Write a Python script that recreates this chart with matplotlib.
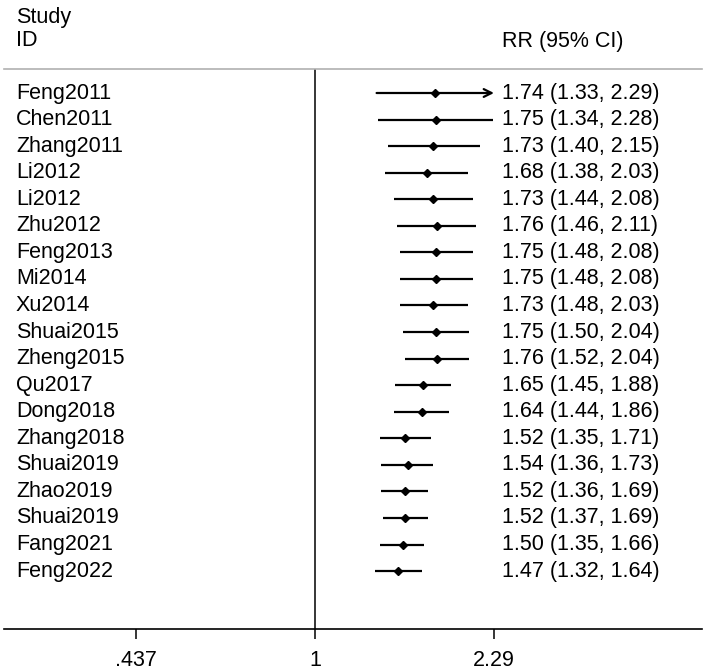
import matplotlib
matplotlib.use('Agg')
from matplotlib import pyplot as plt
from matplotlib.ticker import FixedLocator, FixedFormatter, NullLocator
import numpy as np

plt.rcParams['font.family'] = ['Liberation Sans', 'DejaVu Sans']

studies = ['Feng2011', 'Chen2011', 'Zhang2011', 'Li2012', 'Li2012', 'Zhu2012',
           'Feng2013', 'Mi2014', 'Xu2014', 'Shuai2015', 'Zheng2015', 'Qu2017',
           'Dong2018', 'Zhang2018', 'Shuai2019', 'Zhao2019', 'Shuai2019',
           'Fang2021', 'Feng2022']
rr = [1.74, 1.75, 1.73, 1.68, 1.73, 1.76, 1.75, 1.75, 1.73, 1.75, 1.76, 1.65,
      1.64, 1.52, 1.54, 1.52, 1.52, 1.50, 1.47]
lo = [1.33, 1.34, 1.40, 1.38, 1.44, 1.46, 1.48, 1.48, 1.48, 1.50, 1.52, 1.45,
      1.44, 1.35, 1.36, 1.36, 1.37, 1.35, 1.32]
hi = [2.29, 2.28, 2.15, 2.03, 2.08, 2.11, 2.08, 2.08, 2.03, 2.04, 2.04, 1.88,
      1.86, 1.71, 1.73, 1.69, 1.69, 1.66, 1.64]
ticks = [0.437, 1, 2.29]
tick_labels = ['.437', '1', '2.29']

W, H = 708, 672
fig = plt.figure(figsize=(W / 100, H / 100), dpi=100)

x_left, x_right, y_top, y_bot = 4, 702, 69, 629
ax = fig.add_axes([x_left / W, 1 - y_bot / H, (x_right - x_left) / W, (y_bot - y_top) / H])

px_per_ln = 216.0
x_one = 315
ax.set_xscale('log')
ax.set_xlim(np.exp((x_left - x_one) / px_per_ln), np.exp((x_right - x_one) / px_per_ln))

row0, step = 93, 26.56
ax.set_ylim((y_bot - row0) / step, (y_top - row0) / step)

fs = 15.5
ypos = np.arange(len(studies))
for y, name, m, l, h in zip(ypos, studies, rr, lo, hi):
    if h >= ticks[-1]:
        ax.annotate('', xy=(h, y), xytext=(l, y),
                    arrowprops=dict(arrowstyle='->', lw=1.6, color='black',
                                    mutation_scale=14, shrinkA=0, shrinkB=0))
    else:
        ax.plot([l, h], [y, y], color='black', lw=1.6, solid_capstyle='butt')
    ax.plot(m, y, marker='D', color='black', markersize=4.5)
    ax.text(0.0172, y, name, transform=ax.get_yaxis_transform(), fontsize=fs,
            va='center', ha='left')
    ax.text(0.713, y, '%.2f (%.2f, %.2f)' % (m, l, h),
            transform=ax.get_yaxis_transform(), fontsize=fs, va='center', ha='left')

# header
ax.text(0.0172, (17 - row0) / step, 'Study', transform=ax.get_yaxis_transform(),
        fontsize=fs, va='center', ha='left', clip_on=False)
ax.text(0.0172, (41 - row0) / step, 'ID', transform=ax.get_yaxis_transform(),
        fontsize=fs, va='center', ha='left', clip_on=False)
ax.text(0.713, (41 - row0) / step, 'RR (95% CI)', transform=ax.get_yaxis_transform(),
        fontsize=fs, va='center', ha='left', clip_on=False)

ax.axvline(1, color='black', lw=1.1)

ax.spines['left'].set_visible(False)
ax.spines['right'].set_visible(False)
ax.spines['top'].set_color('#b0b0b0')
ax.spines['top'].set_linewidth(1.2)
ax.spines['bottom'].set_linewidth(1.2)
ax.set_yticks([])
ax.xaxis.set_major_locator(FixedLocator(ticks))
ax.xaxis.set_major_formatter(FixedFormatter(tick_labels))
ax.xaxis.set_minor_locator(NullLocator())
ax.tick_params(axis='x', length=7, width=1.1, labelsize=fs, pad=8)

fig.savefig('out.png', dpi=100)
